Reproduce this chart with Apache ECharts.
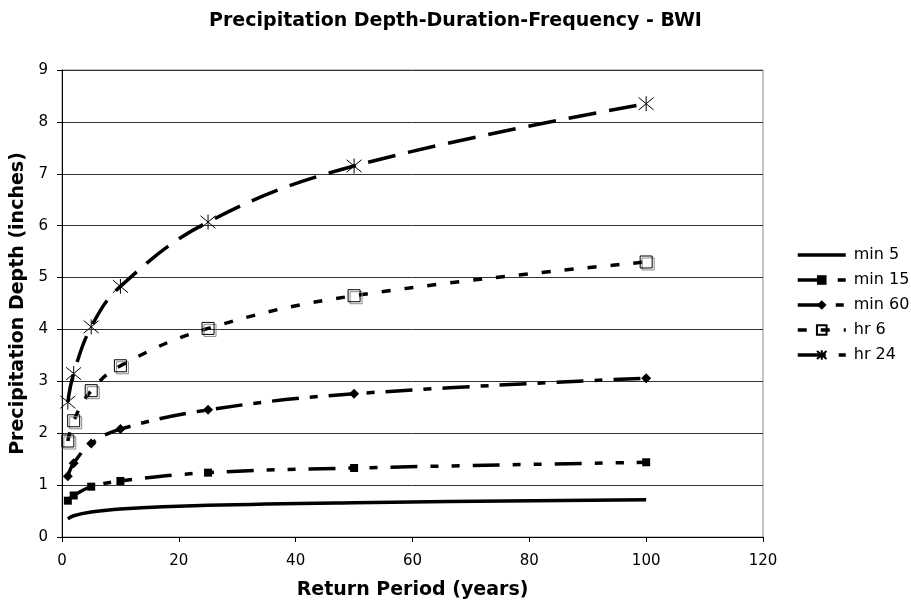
<!DOCTYPE html>
<html>
<head>
<meta charset="utf-8">
<script src="https://cdn.jsdelivr.net/npm/echarts@6/dist/echarts.min.js"></script>
<style>
html,body{margin:0;padding:0;background:#fff;}
#c{width:911px;height:605px;}
</style>
</head>
<body>
<div id="c"></div>
<script>
const returnPeriods = [1, 2, 5, 10, 25, 50, 100];
const min5  = [0.35, 0.41, 0.48, 0.54, 0.61, 0.66, 0.72];
const min15 = [0.70, 0.80, 0.97, 1.08, 1.24, 1.33, 1.44];
const min60 = [1.17, 1.42, 1.80, 2.08, 2.45, 2.76, 3.06];
const hr6   = [1.85, 2.24, 2.82, 3.30, 4.02, 4.65, 5.30];
const hr24  = [2.60, 3.15, 4.05, 4.83, 6.07, 7.15, 8.35];
const seriesNames = ['min 5', 'min 15', 'min 60', 'hr 6', 'hr 24'];
const xTicks = [0, 20, 40, 60, 80, 100, 120];
const yTicks = [0, 1, 2, 3, 4, 5, 6, 7, 8, 9];

const FONT = 'DejaVu Sans, Verdana, sans-serif';
const pair = arr => returnPeriods.map((x, i) => [x, arr[i]]);

const starPath = 'path://M0,0L10,10M10,0L0,10M5,-1L5,11';

const chart = echarts.init(document.getElementById('c'), null, {renderer: 'canvas'});
chart.setOption({
  backgroundColor: '#fff',
  animation: false,
  title: {
    text: 'Precipitation Depth-Duration-Frequency - BWI',
    left: 'center',
    top: 7,
    textStyle: {fontFamily: FONT, fontSize: 19, fontWeight: 'bold', color: '#000'}
  },
  legend: {
    orient: 'vertical',
    left: 796,
    top: 247,
    padding: 0,
    itemWidth: 48,
    itemHeight: 12,
    itemGap: 9,
    lineStyle: {width: 3.5},
    textStyle: {fontFamily: FONT, fontSize: 16, lineHeight: 14, color: '#000', padding: [0, 0, 0, 3]},
    data: [
      {name: seriesNames[0], itemStyle: {opacity: 0}},
      seriesNames[1], seriesNames[2], seriesNames[3], seriesNames[4]
    ]
  },
  grid: {
    left: 62, top: 70, width: 701, height: 467,
    show: true, borderColor: '#888', borderWidth: 1
  },
  xAxis: {
    type: 'value',
    min: xTicks[0], max: xTicks[xTicks.length - 1], interval: 20,
    name: 'Return Period (years)',
    nameLocation: 'middle',
    nameGap: 44,
    nameTextStyle: {fontFamily: FONT, fontSize: 19, fontWeight: 'bold', color: '#000'},
    axisLine: {show: true, lineStyle: {color: '#000', width: 1}},
    axisTick: {show: true, length: 5, lineStyle: {color: '#000'}},
    axisLabel: {fontFamily: FONT, fontSize: 15, color: '#000', margin: 17},
    splitLine: {show: false}
  },
  yAxis: {
    type: 'value',
    min: yTicks[0], max: yTicks[yTicks.length - 1], interval: 1,
    name: 'Precipitation Depth (inches)',
    nameLocation: 'middle',
    nameGap: 32,
    nameTextStyle: {fontFamily: FONT, fontSize: 19, fontWeight: 'bold', color: '#000'},
    axisLine: {show: true, lineStyle: {color: '#000', width: 1}},
    axisTick: {show: true, length: 5, lineStyle: {color: '#000'}},
    axisLabel: {fontFamily: FONT, fontSize: 15, color: '#000', margin: 14},
    splitLine: {show: true, lineStyle: {color: '#333', width: 1}}
  },
  series: [
    {
      name: seriesNames[0], type: 'line', data: pair(min5), smooth: 0.4,
      showSymbol: false, symbol: 'none', color: '#000',
      lineStyle: {color: '#000', width: 3.5, type: 'solid'}
    },
    {
      name: seriesNames[1], type: 'line', data: pair(min15), smooth: 0.4,
      symbol: 'rect', symbolSize: 8, color: '#000',
      itemStyle: {color: '#000'},
      lineStyle: {color: '#000', width: 3.5, type: [27, 13, 8, 13, 8, 13]}
    },
    {
      name: seriesNames[2], type: 'line', data: pair(min60), smooth: 0.4,
      symbol: 'diamond', symbolSize: 10, color: '#000',
      itemStyle: {color: '#000'},
      lineStyle: {color: '#000', width: 3.5, type: [27, 11, 8, 11]}
    },
    {
      name: seriesNames[3], type: 'line', data: pair(hr6), smooth: 0.4,
      symbol: 'rect', symbolSize: 12, color: '#000',
      itemStyle: {color: 'rgba(255,255,255,0)', borderColor: '#000', borderWidth: 1,
        shadowColor: '#888', shadowBlur: 0, shadowOffsetX: 2, shadowOffsetY: 2},
      lineStyle: {color: '#000', width: 3.5, type: [9, 14], shadowBlur: 0, shadowColor: 'rgba(0,0,0,0)'}
    },
    {
      name: seriesNames[4], type: 'line', data: pair(hr24), smooth: 0.4,
      symbol: starPath, symbolSize: 15, color: '#000',
      itemStyle: {color: 'rgba(0,0,0,0)', borderColor: '#000', borderWidth: 1},
      lineStyle: {color: '#000', width: 3.5, type: [28, 13]}
    }
  ]
});
</script>
</body>
</html>
